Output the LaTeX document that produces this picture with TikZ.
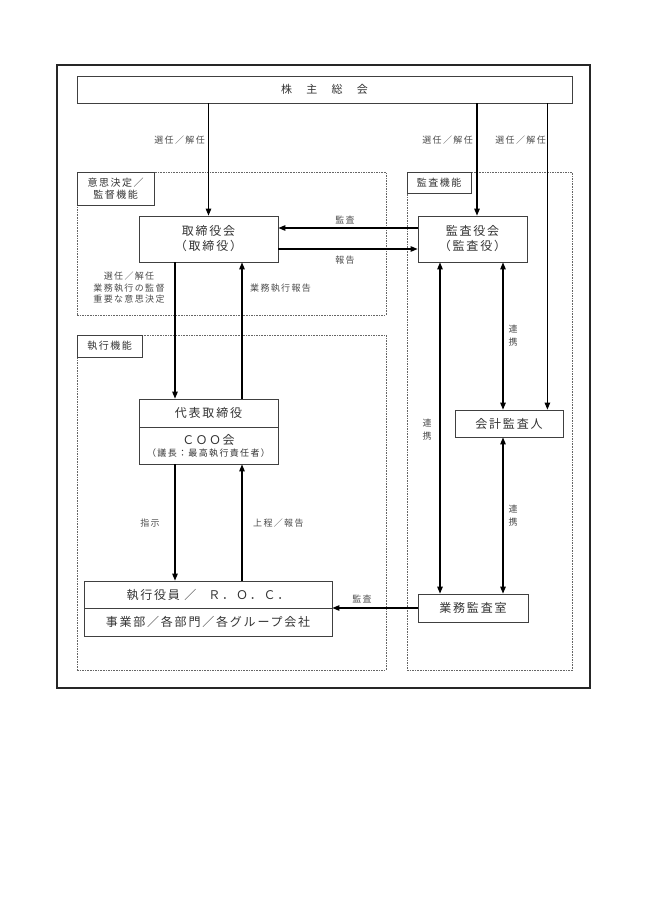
\documentclass[tikz,border=0pt]{standalone}
\usepackage{fontspec}
\setmainfont{Noto Sans CJK JP}[LetterSpace=15]
\usetikzlibrary{arrows.meta}

\begin{document}
\begin{tikzpicture}[x=1pt,y=-1pt,
    box/.style={draw=black!75,line width=0.8pt,text=black!80,inner sep=0pt,align=center,
        font=\fontsize{12}{15}\selectfont},
    area/.style={draw=black!60,line width=0.7pt,dash pattern=on 1.6pt off 1pt,inner sep=0pt},
    tag/.style={draw=black!75,line width=0.8pt,fill=white,text=black!80,inner sep=0pt,
        align=center,anchor=north west,font=\fontsize{10}{12.5}\selectfont},
    lbl/.style={text=black!70,inner sep=0pt,align=center,font=\fontsize{9}{11.5}\selectfont},
    arr/.style={line width=1.1pt,-{Triangle[length=7pt,width=5.5pt]}},
    darr/.style={line width=1.1pt,{Triangle[length=7pt,width=5.5pt]}-{Triangle[length=7pt,width=5.5pt]}}]
    \useasboundingbox (0,0) rectangle (649,918);
    % draw the frame
    \draw[line width=1.2pt,black!85] (57,65) rectangle (590,688);
    % draw the areas
    \node[area,minimum width=309,minimum height=143] (areaA) at (231.5,243.5) {};
    \node[area,minimum width=309,minimum height=335] (areaB) at (231.5,502.5) {};
    \node[area,minimum width=165,minimum height=498] (areaC) at (489.5,421) {};
    \node[tag,minimum width=77,minimum height=33] (tagA) at (areaA.north west) {意思決定／\\監督機能};
    \node[tag,minimum width=65,minimum height=22] (tagB) at (areaB.north west) {執行機能};
    \node[tag,minimum width=64,minimum height=21] (tagC) at (areaC.north west) {監査機能};
    % draw the boxes
    \node[box,minimum width=495,minimum height=27,font=\fontsize{11}{13}\selectfont] (soukai) at (324.5,89.5)
        {株\hspace{1.3em}主\hspace{1.3em}総\hspace{1.3em}会};
    \node[box,minimum width=139,minimum height=46] (torikai) at (208.5,239) {取締役会\\（取締役）};
    \node[box,minimum width=109,minimum height=46] (kansakai) at (472.5,239) {監査役会\\（監査役）};
    \node[box,minimum width=139,minimum height=28] (daihyoA) at (208.5,413) {代表取締役};
    \node[box,minimum width=139,minimum height=37] (daihyoB) at (208.5,445.5)
        {Ｃ\hspace{1.5pt}Ｏ\hspace{1.5pt}Ｏ\hspace{1.5pt}会\\[-3pt]{\fontsize{9}{11}\selectfont（議長：最高執行責任者）}};
    \node[box,minimum width=108,minimum height=27] (kaikei) at (509,423.5) {会計監査人};
    \node[box,minimum width=248,minimum height=27] (shikkoA) at (208,594.5) {執行役員\ ／\quad Ｒ．Ｏ．Ｃ．};
    \node[box,minimum width=248,minimum height=28] (shikkoB) at (208,622) {事業部／各部門／各グループ会社};
    \node[box,minimum width=110,minimum height=28] (gyomu) at (473,608) {業務監査室};
    % draw the edges
    \coordinate (k0) at ([xshift=4.5pt]kansakai.north);
    \coordinate (k1) at ([xshift=-16pt]kaikei.north east);
    \coordinate (d0) at ([xshift=-33.5pt]daihyoB.south);
    \coordinate (d1) at ([xshift=33.5pt]daihyoB.south);
    \coordinate (g0) at ([xshift=-32.5pt]kansakai.south);
    \coordinate (g1) at ([xshift=30.5pt]kansakai.south);
    \draw[arr] (soukai.south -| torikai.north) -- (torikai.north);
    \draw[arr] (k0 |- soukai.south) -- (k0);
    \draw[arr] (k1 |- soukai.south) -- (k1);
    \draw[arr] ([yshift=11pt]kansakai.west) -- ([yshift=11pt]torikai.east);
    \draw[arr] ([yshift=-10pt]torikai.east) -- ([yshift=-10pt]kansakai.west);
    \draw[arr] ([xshift=-33.5pt]torikai.south) -- ([xshift=-33.5pt]daihyoA.north);
    \draw[arr] ([xshift=33.5pt]daihyoA.north) -- ([xshift=33.5pt]torikai.south);
    \draw[arr] (d0) -- (d0 |- shikkoA.north);
    \draw[arr] (d1 |- shikkoA.north) -- (d1);
    \draw[arr] (gyomu.west) -- (gyomu.west -| shikkoA.east);
    \draw[darr] (g0) -- (g0 |- gyomu.north);
    \draw[darr] (g1) -- (g1 |- kaikei.north);
    \draw[darr] (g1 |- kaikei.south) -- (g1 |- gyomu.north);
    % draw the labels
    \node[lbl,anchor=east] (sen1) at (205,140) {選任／解任};
    \node[lbl,anchor=east] (sen2) at (473,140) {選任／解任};
    \node[lbl,anchor=east] (sen3) at (546,140) {選任／解任};
    \node[lbl] (kansa1) at (345,220) {監査};
    \node[lbl] (hokoku) at (345,260) {報告};
    \node[lbl] (kantoku) at (129,288) {選任／解任\\業務執行の監督\\重要な意思決定};
    \node[lbl,anchor=west] (gyohoku) at (250,288) {業務執行報告};
    \node[lbl] (shiji) at (150,523) {指示};
    \node[lbl,anchor=west] (jotei) at (253,523) {上程／報告};
    \node[lbl] (kansa2) at (362,599) {監査};
    \node[lbl,font=\fontsize{9}{13}\selectfont] (renkei1) at (513,336) {連\\携};
    \node[lbl,font=\fontsize{9}{13}\selectfont] (renkei2) at (427,430) {連\\携};
    \node[lbl,font=\fontsize{9}{13}\selectfont] (renkei3) at (513,516) {連\\携};
\end{tikzpicture}
\end{document}
